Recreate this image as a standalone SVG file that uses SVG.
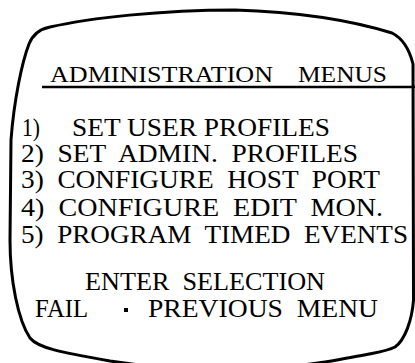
<svg xmlns="http://www.w3.org/2000/svg" width="415" height="363" viewBox="0 0 415 363">
  <style>
    .bezel { fill: none; stroke: #000; stroke-width: 3; stroke-linejoin: round; stroke-linecap: round; }
    .rule { stroke: #000; stroke-width: 2.6; }
    .t { font-family: "Liberation Serif", "Times New Roman", Tinos, "DejaVu Serif", serif; font-size: 25px; fill: #000; }
    .h { font-size: 23.5px; }
    .s { font-size: 24.5px; }
  </style>
  <rect width="415" height="363" fill="#fff"/>

  <!-- monitor screen outline -->
  <g id="screen">
    <path class="bezel" d="M 413,64 C 409,48 402,38 392,33 C 350,20 300,12 235,10 C 160,10 90,18 50,27 C 40,29 33,34 29,44 C 22,62 14,100 11,140 L 10,240 C 10,280 18,320 30,338 C 38,348 60,352 110,361 C 180,372 260,372 325,362 C 360,356 385,352 395,347 C 405,340 412,320 413.5,300 Z"/>
  </g>

  <!-- menu title -->
  <g id="title">
    <text class="t h" x="50" y="82" textLength="223" lengthAdjust="spacingAndGlyphs">ADMINISTRATION</text>
    <text class="t h" x="298" y="82" textLength="89" lengthAdjust="spacingAndGlyphs">MENUS</text>
    <line class="rule" x1="42" y1="87" x2="415" y2="87"/>
  </g>

  <!-- menu options -->
  <g id="options">
    <text class="t s" x="22" y="136" textLength="18" lengthAdjust="spacingAndGlyphs">1)</text>
    <text class="t s" x="72" y="136" textLength="258" lengthAdjust="spacingAndGlyphs">SET USER PROFILES</text>
    <text class="t s" x="21" y="161.5" textLength="337" lengthAdjust="spacingAndGlyphs" xml:space="preserve">2)  SET  ADMIN.  PROFILES</text>
    <text class="t" x="21" y="188" textLength="359" lengthAdjust="spacingAndGlyphs" xml:space="preserve">3)  CONFIGURE  HOST  PORT</text>
    <text class="t" x="21" y="216" textLength="362" lengthAdjust="spacingAndGlyphs" xml:space="preserve">4)  CONFIGURE  EDIT  MON.</text>
    <text class="t" x="21" y="243" textLength="387" lengthAdjust="spacingAndGlyphs" xml:space="preserve">5)  PROGRAM  TIMED  EVENTS</text>
  </g>

  <!-- prompt -->
  <g id="prompt">
    <text class="t" x="85" y="290" textLength="240" lengthAdjust="spacingAndGlyphs" xml:space="preserve">ENTER  SELECTION</text>
    <text class="t" x="35" y="317" textLength="53" lengthAdjust="spacingAndGlyphs">FAIL</text>
    <rect x="124" y="308" width="4" height="4" fill="#000"/>
    <text class="t" x="148" y="317" textLength="230" lengthAdjust="spacingAndGlyphs" xml:space="preserve">PREVIOUS  MENU</text>
  </g>
</svg>
